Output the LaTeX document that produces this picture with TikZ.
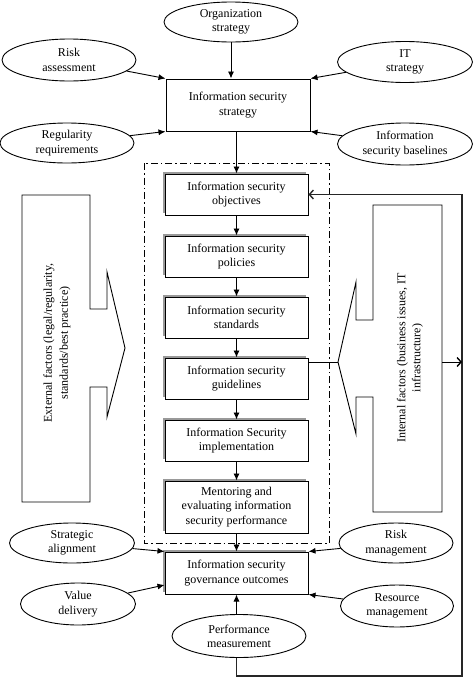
\documentclass[tikz,border=0pt]{standalone}
\usepackage{fontspec}
\setmainfont{Liberation Serif}
\usetikzlibrary{shapes.geometric,arrows.meta,shadows,calc}
\begin{document}
\begin{tikzpicture}[x=1pt,y=-1pt,
  every node/.style={font=\fontsize{12}{14.3}\selectfont},
  ell/.style={ellipse,draw,line width=0.9pt,inner sep=0pt,align=center,fill=white},
  sbox/.style={rectangle,draw,line width=1pt,fill=white,minimum width=143pt,inner sep=0pt,align=center},
  shd/.style={drop shadow={shadow xshift=-1.6pt,shadow yshift=1.6pt,fill=black!40,opacity=1}},
  arr/.style={line width=0.9pt,-{Latex[length=7pt,width=6pt]}},
  chev/.style={-{Straight Barb[length=4pt,width=9pt,line width=1.4pt]}},
  fac/.style={draw,line width=0.9pt,fill=white}
]
\useasboundingbox (0,0) rectangle (474,678);

% top ellipses
\node[ell,minimum width=134pt,minimum height=40pt] (org) at (231,22) {Organization\\strategy};
\node[ell,minimum width=134pt,minimum height=42pt] (ra) at (69,60) {Risk\\assessment};
\node[ell,minimum width=135pt,minimum height=41pt] (its) at (405,62) {IT\\strategy};
\node[ell,minimum width=134pt,minimum height=40pt] (rr) at (67,143) {Regularity\\requirements};
\node[ell,minimum width=135pt,minimum height=42pt] (isb) at (405,144) {Information\\security baselines};

% strategy box
\node[sbox,minimum width=144pt,minimum height=52pt] (iss) at (238,105) {Information security\\strategy};

% dashed frame
\draw[line width=0.9pt,dash pattern=on 7pt off 3pt on 1.5pt off 3pt] (144,163) rectangle (329,543);

% external factors shape
\draw[fac] (22,195) -- (90,195) -- (90,309) -- (107,309) -- (107,272) -- (125,348)
  -- (107,417) -- (107,387) -- (90,387) -- (90,502) -- (22,502) -- cycle;
\node[rotate=90,align=center,font=\fontsize{12}{16}\selectfont] (ext) at (57,343)
  {External factors (legal/regularity,\\standards/best practice)};

% internal factors shape
\draw[fac] (442,205) -- (373,205) -- (373,320) -- (356,320) -- (356,282) -- (338,362)
  -- (356,434) -- (356,397) -- (373,397) -- (373,512) -- (442,512) -- cycle;
\node[rotate=90,align=center,font=\fontsize{12}{15}\selectfont] (int) at (410,358)
  {Internal factors (business issues, IT\\infrastructure)};
\coordinate (itip) at (338,362);
\coordinate (iright) at (442,362);

% inner boxes
\node[sbox,shd,minimum height=41pt] (obj) at (236.5,194.5) {Information security\\objectives};
\node[sbox,shd,minimum height=41pt] (pol) at (236.5,256.5) {Information security\\policies};
\node[sbox,shd,minimum height=41pt] (std) at (236.5,317.5) {Information security\\standards};
\node[sbox,shd,minimum height=41pt] (gui) at (236.5,378.5) {Information security\\guidelines};
\node[sbox,shd,minimum height=41pt] (imp) at (236.5,440.5) {Information Security\\implementation};
\node[sbox,shd,minimum height=52pt] (men) at (236.5,507) {Mentoring and\\evaluating information\\security performance};

% outcomes
\node[sbox,shd,minimum height=42pt] (out) at (236.5,573) {Information security\\governance outcomes};

% bottom ellipses
\node[ell,minimum width=125pt,minimum height=40pt] (sa) at (72,543) {Strategic\\alignment};
\node[ell,minimum width=114pt,minimum height=40pt] (rm) at (396,543) {Risk\\management};
\node[ell,minimum width=115pt,minimum height=42pt] (vd) at (78,604) {Value\\delivery};
\node[ell,minimum width=113pt,minimum height=42pt] (resm) at (397,606) {Resource\\management};
\node[ell,minimum width=134pt,minimum height=43pt] (pm) at (239,636) {Performance\\measurement};

% arrows top
\draw[arr] (org) -- (org.south |- iss.north);
\draw[arr] (ra) -- (iss.north west);
\draw[arr] (its) -- (iss.north east);
\draw[arr] (rr) -- (iss.south west);
\draw[arr] (isb) -- (iss.south east);
\draw[arr] (iss.south -| obj) -- (obj.north);
\draw[arr] (obj) -- (pol);
\draw[arr] (pol) -- (std);
\draw[arr] (std) -- (gui);
\draw[arr] (gui) -- (imp);
\draw[arr] (imp) -- (men);
\draw[arr] (men) -- (out);

% arrows bottom
\draw[arr] (sa) -- (out.north west);
\draw[arr] (rm) -- (out.north east);
\draw[arr] (vd) -- (out.west |- 0,585);
\draw[arr] (resm) -- (out.south east);
\draw[arr] (out.south |- pm.north) -- (out.south);

% guidelines to internal factors
\draw[line width=0.9pt] (itip -| gui.east) -- (itip);

% feedback loop
\coordinate (fb1) at (462,676);
\draw[line width=1.6pt,black!85,chev] (out.south |- pm.south) |- (fb1) |- (obj.east);
\draw[line width=1pt,chev] (iright) -- (iright -| fb1);
\end{tikzpicture}
\end{document}
